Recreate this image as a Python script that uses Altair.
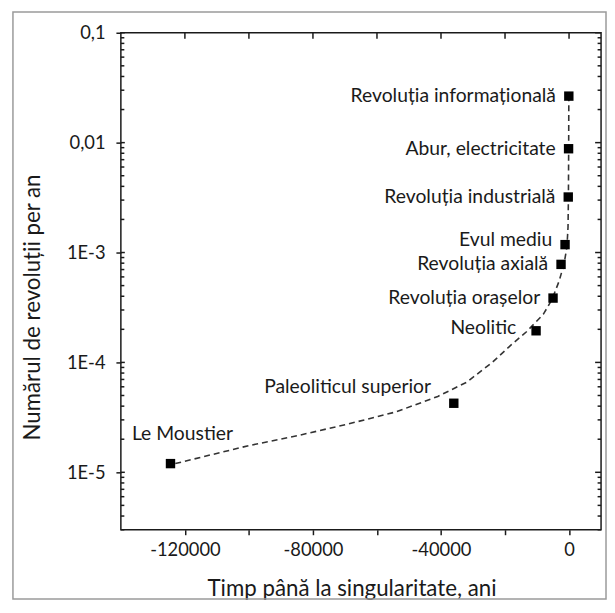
import altair as alt
import pandas as pd

# ---- data ----
events = ["Le Moustier", "Paleoliticul superior", "Neolitic", "Revoluția orașelor",
          "Revoluția axială", "Evul mediu", "Revoluția industrială",
          "Abur, electricitate", "Revoluția informațională"]
years_before = [-124500, -36000, -10300, -5000, -2500, -1250, -250, -150, -70]
rate = [1.2e-5, 4.25e-5, 1.94e-4, 3.85e-4, 7.8e-4, 1.18e-3, 3.2e-3, 8.8e-3, 2.65e-2]

curve_t = [-123000, -115000, -100000, -85000, -69000, -54000, -41000, -32000, -24000,
           -18000, -13300, -8000, -5300, -3100, -1550, -650, -320, -200, -120, -70]
curve_r = [1.2e-5, 1.37e-5, 1.75e-5, 2.15e-5, 2.75e-5, 3.55e-5, 4.9e-5, 6.6e-5, 1.0e-4,
           1.45e-4, 1.9e-4, 2.75e-4, 3.75e-4, 5.5e-4, 7.9e-4, 1.13e-3, 1.7e-3, 3.1e-3,
           8.5e-3, 2.55e-2]

x_domain = [-140000, 10000]
y_domain = [3e-6, 0.1]
x_ticks = [-120000, -100000, -80000, -60000, -40000, -20000, 0]
x_tick_labels = ["-120000", "", "-80000", "", "-40000", "", "0"]
y_major = [1e-5, 1e-4, 1e-3, 1e-2, 1e-1]
y_tick_labels = ["1E-5", "1E-4", "1E-3", "0,01", "0,1"]
y_minor = [m * d for d in [1e-6, 1e-5, 1e-4, 1e-3, 1e-2] for m in range(2, 10) if m * d >= 3e-6]

W, H = 485, 502
FONT = "Lato"
INK = "#1a1a1a"

# one table for the points and for the inward frame ticks
rows = [{"kind": "point", "name": n, "t": t, "r": r}
        for n, t, r in zip(events, years_before, rate)]
rows += [{"kind": "top", "name": "", "t": t, "r": y_domain[1]} for t in x_ticks]
rows += [{"kind": "right_major", "name": "", "t": x_domain[1], "r": r} for r in y_major]
rows += [{"kind": "right_minor", "name": "", "t": x_domain[1], "r": r} for r in y_minor]
rows += [{"kind": "left_major", "name": "", "t": x_domain[0], "r": r} for r in y_major]
rows += [{"kind": "left_minor", "name": "", "t": x_domain[0], "r": r} for r in y_minor]
marks = pd.DataFrame(rows)
crv = pd.DataFrame({"t": curve_t, "r": curve_r})

x_scale = alt.Scale(domain=x_domain, nice=False, zero=False)
y_scale = alt.Scale(type="log", domain=y_domain, nice=False)

x_expr = "''"
for v, lab in zip(x_ticks, x_tick_labels):
    x_expr = f"datum.value == {v} ? '{lab}' : " + x_expr
y_expr = "''"
for v, lab in zip(y_major, y_tick_labels):
    y_expr = f"abs(datum.value - {v}) < {v / 100} ? '{lab}' : " + y_expr

x_axis = alt.Axis(
    orient="bottom", values=x_ticks, labelExpr=x_expr, tickSize=5, labelPadding=6,
    domain=False, grid=False, labelFlush=False, labelOverlap=False,
    title="Timp până la singularitate, ani", titleX=233, titleY=66,
    titleBaseline="alphabetic", titleAlign="center")
y_axis = alt.Axis(
    orient="left", values=y_major, labelExpr=y_expr, tickSize=5, labelPadding=11,
    domain=False, grid=False, labelFlush=False, labelOverlap=False,
    title="Numărul de revoluții per an", titleX=-82, titleY=277, titleAngle=270,
    titleBaseline="alphabetic", titleAlign="center")

Xn = alt.X("t:Q", scale=x_scale, axis=None)
Yn = alt.Y("r:Q", scale=y_scale, axis=None)

frame = alt.Chart(alt.Data(values=[{"a": 1}])).mark_rect(
    filled=False, stroke="#9a9a9a", strokeWidth=1.5).encode(
    x=alt.value(-109), x2=alt.value(490), y=alt.value(-21), y2=alt.value(572),
)

curve = alt.Chart(crv).mark_line(strokeDash=[6, 4], color="#333333", strokeWidth=1.6).encode(
    x=alt.X("t:Q", scale=x_scale, axis=x_axis),
    y=alt.Y("r:Q", scale=y_scale, axis=y_axis),
    order="t:Q")

squares = alt.Chart(marks).transform_filter(alt.datum.kind == "point").mark_square(
    size=90, color="black", opacity=1).encode(x=Xn, y=Yn)


def tick_marks(kind, path, length):
    return alt.Chart(marks).transform_filter(alt.datum.kind == kind).mark_point(
        shape=path, size=4 * length * length, filled=False, strokeWidth=1.5,
        color=INK, opacity=1).encode(x=Xn, y=Yn)


ticks_top = tick_marks("top", "M0,0L0,1", 6)
ticks_right_major = tick_marks("right_major", "M0,0L-1,0", 6)
ticks_right_minor = tick_marks("right_minor", "M0,0L-1,0", 3.5)
ticks_left_major = tick_marks("left_major", "M0,0L1,0", 4)
ticks_left_minor = tick_marks("left_minor", "M0,0L1,0", 3.5)


def labels(names, align, dx, dy):
    return alt.Chart(marks).transform_filter(
        alt.FieldOneOfPredicate(field="name", oneOf=names)
    ).mark_text(align=align, baseline="middle", dx=dx, dy=dy, font=FONT,
                fontSize=19.5, color=INK).encode(x=Xn, y=Yn, text="name:N")


lab_main = labels(["Revoluția informațională", "Abur, electricitate", "Revoluția industrială",
                   "Revoluția axială", "Revoluția orașelor"], "right", -13, 0)
lab_evul = labels(["Evul mediu"], "right", -13, -5)
lab_neo = labels(["Neolitic"], "right", -20, -3)
lab_paleo = labels(["Paleoliticul superior"], "right", -23, -16)
lab_moust = labels(["Le Moustier"], "left", -39, -30)

chart = alt.layer(
    frame, curve, ticks_top, ticks_right_major, ticks_right_minor,
    ticks_left_major, ticks_left_minor, squares,
    lab_main, lab_evul, lab_neo, lab_paleo, lab_moust,
).resolve_axis(x="independent", y="independent").properties(
    width=W, height=H,
    autosize=alt.AutoSizeParams(type="none"),
    padding={"left": 114, "top": 22, "right": 6, "bottom": 73},
    background="white",
).configure_view(stroke=INK, strokeWidth=1.5).configure_axis(
    labelFont=FONT, labelFontSize=18.5, labelColor=INK,
    titleFont=FONT, titleFontSize=22.5, titleFontWeight="normal", titleColor=INK,
    tickColor=INK, tickWidth=1.5,
)

chart.save("out.html", embed_options={"renderer": "svg", "actions": False})
